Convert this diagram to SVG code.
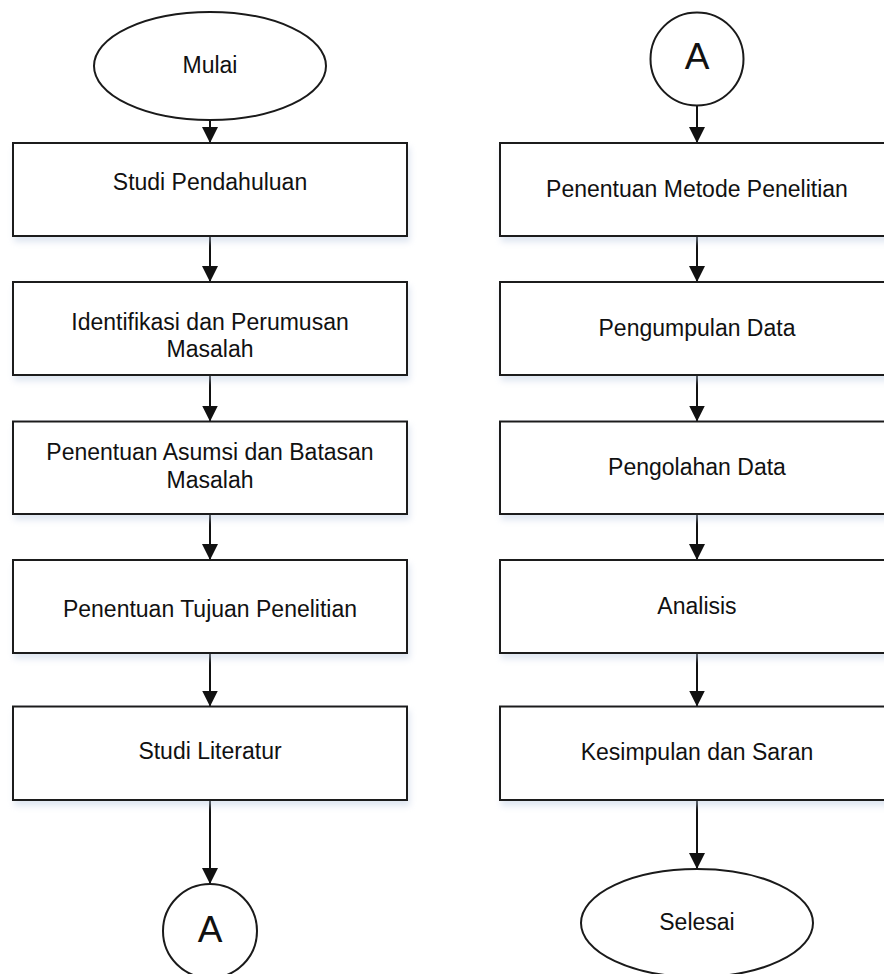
<svg xmlns="http://www.w3.org/2000/svg" width="884" height="974" viewBox="0 0 884 974">
<style>
.s{fill:#fff;stroke:#1a1a1a;stroke-width:2}
.t{font-family:"Liberation Sans",Arial,sans-serif;font-size:23px;fill:#111;text-anchor:middle}
.big{font-size:37px}
.c{stroke:#111;stroke-width:2;fill:none;marker-end:url(#ah)}
</style>
<defs>
<marker id="ah" markerUnits="userSpaceOnUse" markerWidth="16" markerHeight="17" refX="16" refY="8" orient="auto" viewBox="0 0 16 16">
<path d="M0,0 L16,8 L0,16 Z" fill="#111"/>
</marker>
<filter id="sh" x="-10%" y="-10%" width="125%" height="135%">
<feDropShadow dx="2" dy="5" stdDeviation="3" flood-color="#b9c9e0" flood-opacity="0.45"/>
</filter>
</defs>
<rect width="884" height="974" fill="#fff"/>
<g id="connectors">
<line class="c" x1="210" y1="120" x2="210" y2="143"/>
<line class="c" x1="210" y1="236" x2="210" y2="282"/>
<line class="c" x1="210" y1="375" x2="210" y2="421.5"/>
<line class="c" x1="210" y1="514" x2="210" y2="560"/>
<line class="c" x1="210" y1="653" x2="210" y2="706.5"/>
<line class="c" x1="210" y1="800" x2="210" y2="884"/>
<line class="c" x1="697" y1="105" x2="697" y2="143"/>
<line class="c" x1="697" y1="236" x2="697" y2="282"/>
<line class="c" x1="697" y1="375" x2="697" y2="421.5"/>
<line class="c" x1="697" y1="514" x2="697" y2="560"/>
<line class="c" x1="697" y1="653" x2="697" y2="706.5"/>
<line class="c" x1="697" y1="800" x2="697" y2="869"/>
</g>
<g id="mulai"><ellipse class="s" cx="210" cy="66" rx="116" ry="54"/><text class="t" x="210" y="73">Mulai</text></g>
<g id="studi-pendahuluan"><rect class="s" filter="url(#sh)" x="13" y="143" width="394" height="93"/><text class="t" x="210" y="190">Studi Pendahuluan</text></g>
<g id="identifikasi"><rect class="s" filter="url(#sh)" x="13" y="282" width="394" height="93"/><text class="t" x="210" y="330">Identifikasi dan Perumusan</text><text class="t" x="210" y="357">Masalah</text></g>
<g id="asumsi"><rect class="s" filter="url(#sh)" x="13" y="421.5" width="394" height="92.5"/><text class="t" x="210" y="460">Penentuan Asumsi dan Batasan</text><text class="t" x="210" y="488">Masalah</text></g>
<g id="tujuan"><rect class="s" filter="url(#sh)" x="13" y="560" width="394" height="93"/><text class="t" x="210" y="617">Penentuan Tujuan Penelitian</text></g>
<g id="literatur"><rect class="s" filter="url(#sh)" x="13" y="706.5" width="394" height="93.5"/><text class="t" x="210" y="759">Studi Literatur</text></g>
<g id="a-out"><circle class="s" cx="210" cy="931" r="47"/><text class="t big" x="210" y="942">A</text></g>
<g id="a-in"><circle class="s" cx="697" cy="59" r="46.5"/><text class="t big" x="697" y="68.5">A</text></g>
<g id="metode"><rect class="s" filter="url(#sh)" x="500" y="143" width="394" height="93"/><text class="t" x="697" y="197">Penentuan Metode Penelitian</text></g>
<g id="pengumpulan"><rect class="s" filter="url(#sh)" x="500" y="282" width="394" height="93"/><text class="t" x="697" y="336">Pengumpulan Data</text></g>
<g id="pengolahan"><rect class="s" filter="url(#sh)" x="500" y="421.5" width="394" height="92.5"/><text class="t" x="697" y="475">Pengolahan Data</text></g>
<g id="analisis"><rect class="s" filter="url(#sh)" x="500" y="560" width="394" height="93"/><text class="t" x="697" y="613.5">Analisis</text></g>
<g id="kesimpulan"><rect class="s" filter="url(#sh)" x="500" y="706.5" width="394" height="93.5"/><text class="t" x="697" y="759.5">Kesimpulan dan Saran</text></g>
<g id="selesai"><ellipse class="s" cx="697" cy="923" rx="116" ry="54"/><text class="t" x="697" y="929.5">Selesai</text></g>
</svg>
